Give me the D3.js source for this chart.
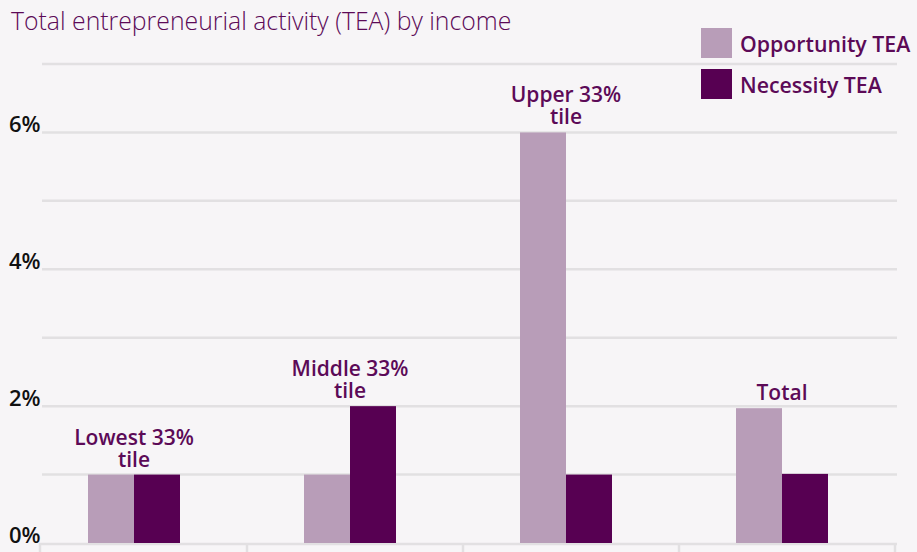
<!doctype html>
<html lang="en">
<head>
  <meta charset="utf-8">
  <title>TEA by income</title>
  <script src="https://d3js.org/d3.v7.min.js"></script>
  <style>
    body { margin: 0; background: #f7f5f7; }
    svg { display: block; }
  </style>
</head>
<body>
<svg id="chart" width="917" height="552"></svg>
<script>
  // data
  var categories = ["Lowest 33%|tile", "Middle 33%|tile", "Upper 33%|tile", "Total"];
  var series = ["Opportunity TEA", "Necessity TEA"];
  var opportunity = [1.0, 1.0, 6.0, 1.97];
  var necessity = [1.0, 2.0, 1.0, 1.01];
  var yTicks = [0, 2, 4, 6];

  var colors = ["#b89db8", "#570052"];
  var textColor = "#5c0a57";
  var font = "Open Sans, sans-serif";

  var svg = d3.select("#chart");

  var x = d3.scaleBand().domain(categories).range([26, 890]);
  var x1 = d3.scaleBand().domain(series).range([-46, 46]);
  var y = d3.scaleLinear().domain([0, 7]).range([543, 64]);

  // grid lines every 1%
  svg.append("g").selectAll("line")
    .data(d3.range(1, 8))
    .enter().append("line")
    .attr("x1", 42).attr("x2", 897)
    .attr("y1", function(d) { return y(d); })
    .attr("y2", function(d) { return y(d); })
    .attr("stroke", "#e2e0e2").attr("stroke-width", 2.5);

  // baseline + category separators
  svg.append("line")
    .attr("x1", 39).attr("x2", 897)
    .attr("y1", y(0) + 1).attr("y2", y(0) + 1)
    .attr("stroke", "#e2e0e2").attr("stroke-width", 2.5);

  var seps = [40].concat(categories.slice(1).map(function(c) { return x(c) + 5; })).concat([895]);
  svg.append("g").selectAll("line")
    .data(seps)
    .enter().append("line")
    .attr("x1", function(d) { return d; }).attr("x2", function(d) { return d; })
    .attr("y1", y(0)).attr("y2", 552)
    .attr("stroke", "#e2e0e2").attr("stroke-width", 2.5);

  // y labels
  svg.append("g").selectAll("text")
    .data(yTicks)
    .enter().append("text")
    .attr("x", 9)
    .attr("y", function(d) { return y(d); })
    .attr("font-family", font)
    .attr("font-weight", 600)
    .attr("font-size", 22)
    .attr("fill", "#111")
    .text(function(d) { return d + "%"; });

  // bars
  var groups = svg.append("g").selectAll("g")
    .data(categories)
    .enter().append("g")
    .attr("transform", function(d) { return "translate(" + (x(d) + x.bandwidth() / 2) + ",0)"; });

  groups.selectAll("rect")
    .data(function(d, i) { return [opportunity[i], necessity[i]]; })
    .enter().append("rect")
    .attr("x", function(d, j) { return x1(series[j]); })
    .attr("width", x1.bandwidth())
    .attr("y", function(d) { return y(d); })
    .attr("height", function(d) { return y(0) - y(d); })
    .attr("fill", function(d, j) { return colors[j]; });

  // category labels above tallest bar, one text per line
  groups.each(function(d, i) {
    var lines = d.split("|");
    var top = y(Math.max(opportunity[i], necessity[i])) - 8;
    var g = d3.select(this);
    lines.forEach(function(l, k) {
      g.append("text")
        .attr("x", 0)
        .attr("y", top - (lines.length - 1 - k) * 22)
        .attr("text-anchor", "middle")
        .attr("font-family", font)
        .attr("font-weight", 600)
        .attr("font-size", 21)
        .attr("fill", textColor)
        .text(l);
    });
  });

  // title
  svg.append("text")
    .attr("x", 11).attr("y", 30)
    .attr("font-family", font)
    .attr("font-weight", 300)
    .attr("font-size", 24.8)
    .attr("fill", textColor)
    .text("Total entrepreneurial activity (TEA) by income");

  // legend
  var legend = svg.append("g").selectAll("g")
    .data(series)
    .enter().append("g")
    .attr("transform", function(d, i) { return "translate(701," + (28 + i * 41) + ")"; });

  legend.append("rect")
    .attr("width", 31).attr("height", 30)
    .attr("fill", function(d, i) { return colors[i]; });

  legend.append("text")
    .attr("x", 39).attr("y", 24)
    .attr("font-family", font)
    .attr("font-weight", 600)
    .attr("font-size", 21.3)
    .attr("fill", textColor)
    .text(function(d) { return d; });
</script>
</body>
</html>
